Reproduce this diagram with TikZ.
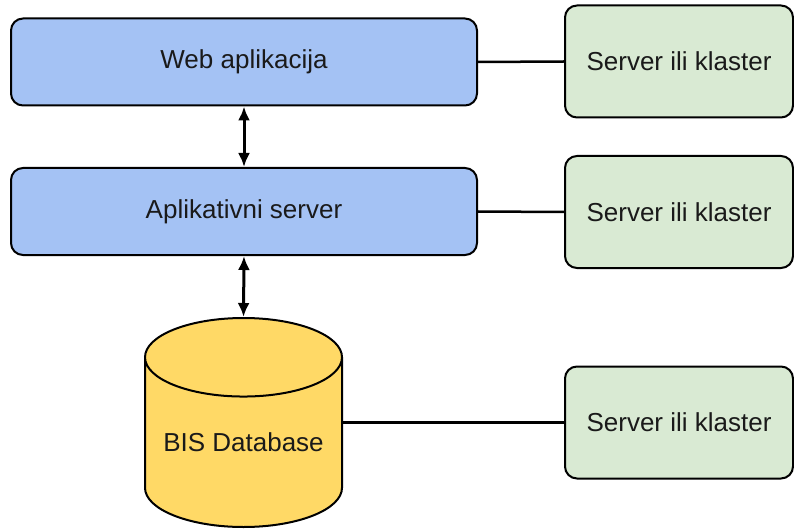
\documentclass[tikz,border=0pt]{standalone}
\usepackage{fontspec}
\setmainfont{Liberation Sans}
\usetikzlibrary{arrows.meta}
\usetikzlibrary{shapes.geometric}
\usetikzlibrary{positioning}
\definecolor{appblue}{HTML}{A4C2F4}
\definecolor{srvgreen}{HTML}{D9EAD3}
\definecolor{dbyellow}{HTML}{FFD966}
\definecolor{inkgray}{HTML}{1A1A1A}
\tikzset{layer/.style = {draw, rounded corners = 12pt, line width = 2pt, fill = appblue, minimum width = 466pt, minimum height = 87pt, text = inkgray, font = \fontsize{26}{30}\selectfont}}
\tikzset{server/.style = {draw, rounded corners = 12pt, line width = 2pt, fill = srvgreen, minimum width = 228pt, minimum height = 112pt, text = inkgray, font = \fontsize{26}{30}\selectfont}}
\tikzset{link/.style = {line width = 2.5pt}}
\tikzset{both/.style = {line width = 3pt, {Latex[length = 14pt, width = 12pt]}-{Latex[length = 14pt, width = 12pt]}}}

\begin{document}
\begin{tikzpicture}[x = 1pt, y = -1pt]
      \useasboundingbox (0, 0) rectangle (794, 529);

      \node [layer] (web) at (244, 62) {Web aplikacija};
      \node [layer] (app) at (244, 211.5) {Aplikativni server};
      \node [draw, cylinder, shape border rotate = 90, aspect = 0.47, line width = 2pt, fill = dbyellow,
             minimum width = 197pt, minimum height = 209pt, text depth = 12pt, text = inkgray,
             font = \fontsize{26}{30}\selectfont, anchor = shape center] (db) at (243.5, 422.5) {BIS Database};

      \node [server] (srv1) at (679, 61.5) {Server ili klaster};
      \node [server] (srv2) at (679, 212) {Server ili klaster};
      \node [server] (srv3) at (679, 422.5) {Server ili klaster};

      \draw [link] (web.east) -- (srv1.west);
      \draw [link] (app.east) -- (srv2.west);
      \draw [link] (db.east |- srv3.west) -- (srv3.west);

      \draw [both] (web.south) -- (app.north);
      \draw [both] (app.south) -- (db.north);
    \end{tikzpicture}
\end{document}
